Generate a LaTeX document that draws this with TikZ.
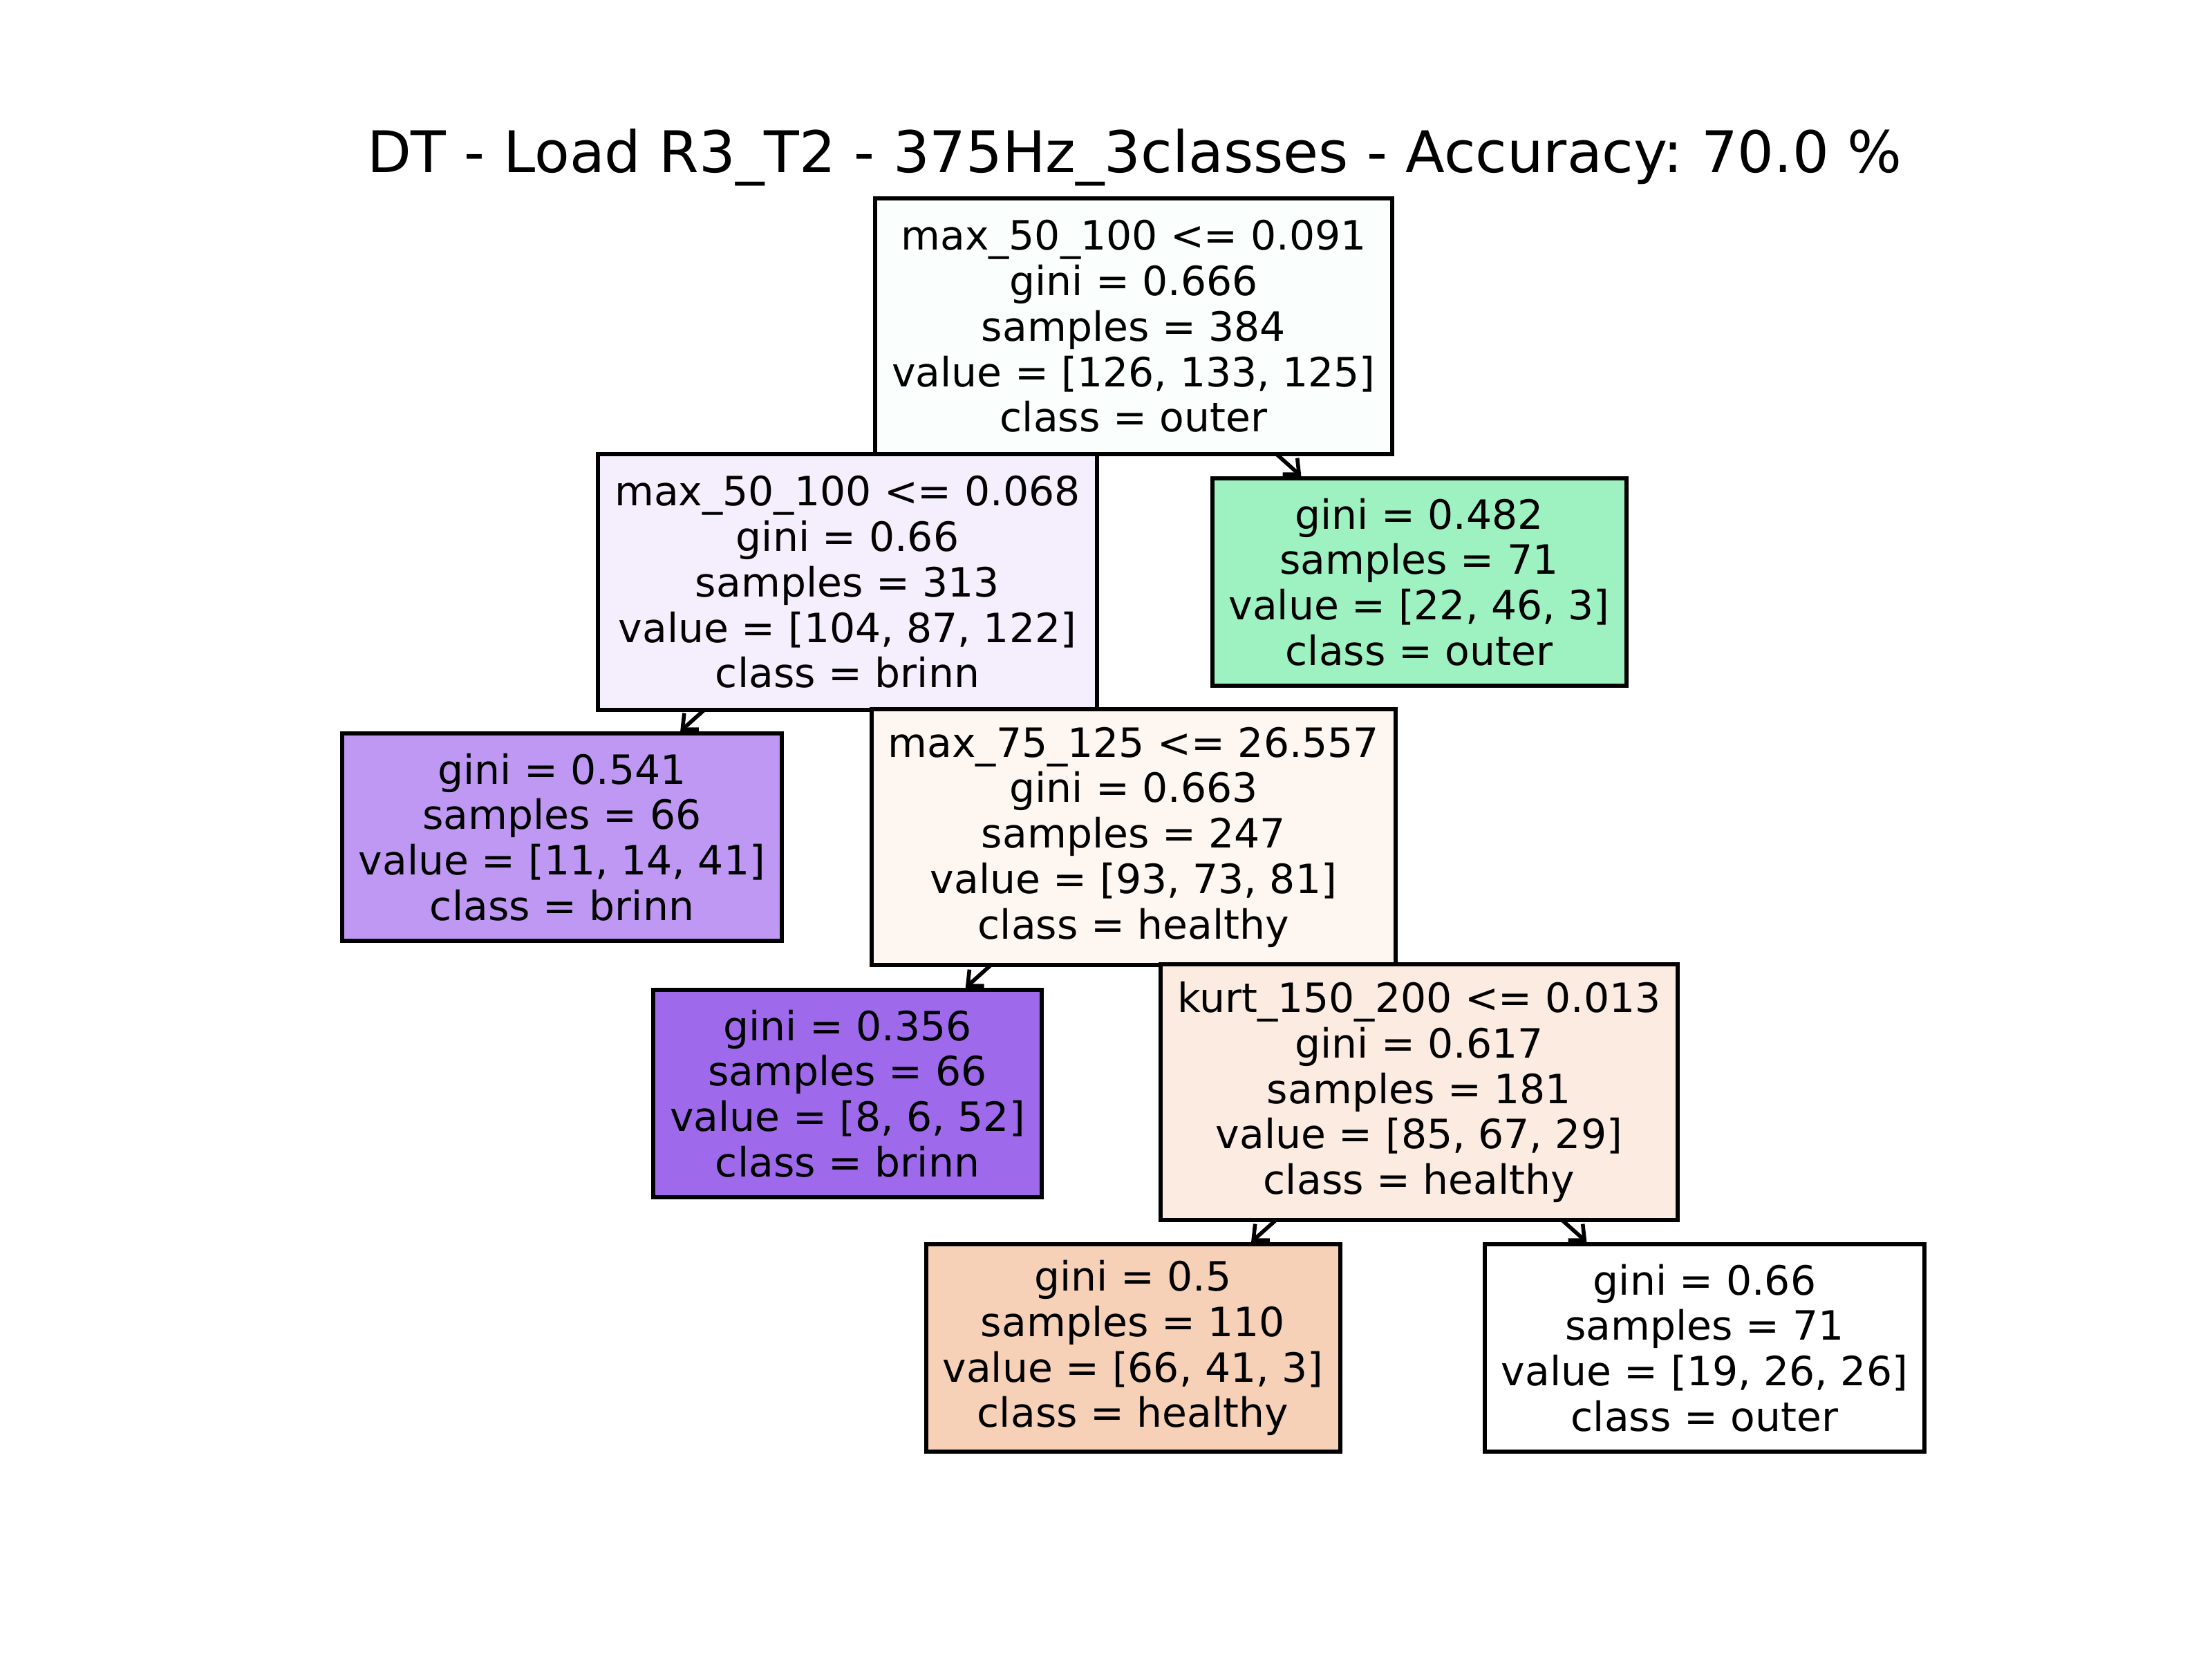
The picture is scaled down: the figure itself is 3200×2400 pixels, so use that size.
\documentclass[tikz,border=0pt]{standalone}
\usepackage{fontspec}
\setmainfont{DejaVu Sans}
\usetikzlibrary{arrows.meta,backgrounds}
\definecolor{cRoot}{RGB}{250,254,252}
\definecolor{cA}{RGB}{244,238,253}
\definecolor{cB}{RGB}{158,242,193}
\definecolor{cC}{RGB}{190,152,242}
\definecolor{cD}{RGB}{253,246,241}
\definecolor{cE}{RGB}{159,105,235}
\definecolor{cF}{RGB}{251,235,224}
\definecolor{cG}{RGB}{246,209,183}
\definecolor{cH}{RGB}{255,255,255}
\frenchspacing
\begin{document}
\begin{tikzpicture}[x=0.01cm,y=-0.01cm,
  tbox/.style={draw=black, line width=1.7pt, align=center,
    font=\fontsize{16.6}{18.7}\selectfont, inner xsep=0.24cm, inner ysep=0pt},
  five/.style={tbox, minimum height=3.69cm},
  four/.style={tbox, minimum height=3.0cm},
  edge/.style={line width=1.6pt, -{Straight Barb[length=5pt,width=9pt,line width=1.6pt]}}]
\useasboundingbox (0,0) rectangle (3200,2400);
\node[font=\fontsize{23.6}{27}\selectfont, anchor=base] (title) at (1641,249) {DT - Load R3\_T2 - 375Hz\_3classes - Accuracy: 70.0 \%};
\node[five, fill=cRoot] (n0) at (1640,472) {max\_50\_100 <= 0.091\\gini = 0.666\\samples = 384\\value = [126, 133, 125]\\class = outer};
\node[five, fill=cA] (n1) at (1226,842) {max\_50\_100 <= 0.068\\gini = 0.66\\samples = 313\\value = [104, 87, 122]\\class = brinn};
\node[four, fill=cB] (n2) at (2053,842) {gini = 0.482\\samples = 71\\value = [22, 46, 3]\\class = outer};
\node[four, fill=cC] (n3) at (813,1211) {gini = 0.541\\samples = 66\\value = [11, 14, 41]\\class = brinn};
\node[five, fill=cD] (n4) at (1640,1211) {max\_75\_125 <= 26.557\\gini = 0.663\\samples = 247\\value = [93, 73, 81]\\class = healthy};
\node[four, fill=cE] (n5) at (1226,1582) {gini = 0.356\\samples = 66\\value = [8, 6, 52]\\class = brinn};
\node[five, fill=cF] (n6) at (2053,1580) {kurt\_150\_200 <= 0.013\\gini = 0.617\\samples = 181\\value = [85, 67, 29]\\class = healthy};
\node[four, fill=cG] (n7) at (1639,1950) {gini = 0.5\\samples = 110\\value = [66, 41, 3]\\class = healthy};
\node[four, fill=cH] (n8) at (2466,1950) {gini = 0.66\\samples = 71\\value = [19, 26, 26]\\class = outer};
\begin{pgfonlayer}{background}
\draw[edge] (n0.center) -- (n1);
\draw[edge] (n0.center) -- (n2);
\draw[edge] (n1.center) -- (n3);
\draw[edge] (n1.center) -- (n4);
\draw[edge] (n4.center) -- (n5);
\draw[edge] (n4.center) -- (n6);
\draw[edge] (n6.center) -- (n7);
\draw[edge] (n6.center) -- (n8);
\end{pgfonlayer}
\end{tikzpicture}
\end{document}
